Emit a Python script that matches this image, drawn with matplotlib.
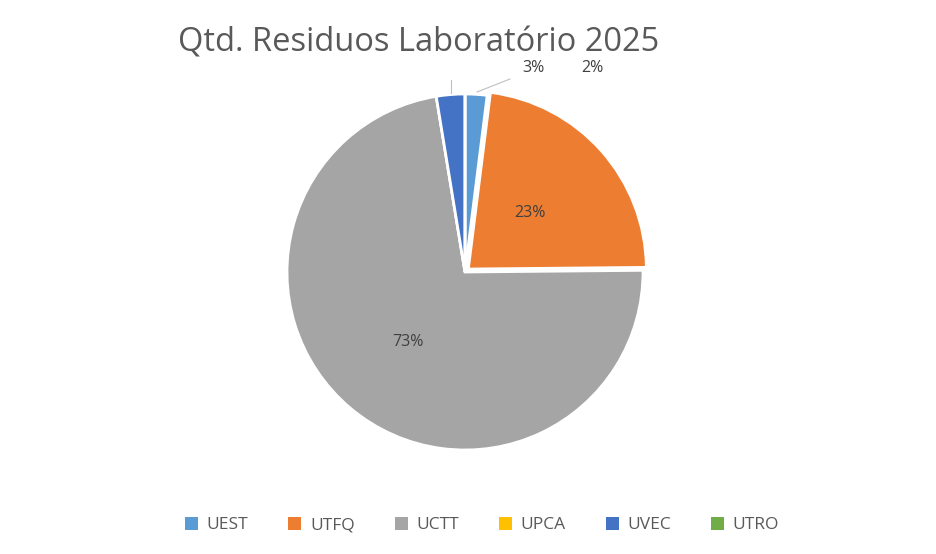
import matplotlib
matplotlib.use("Agg")
import matplotlib.pyplot as plt
from matplotlib.patches import Patch

categories = ['UEST', 'UTFQ', 'UCTT', 'UPCA', 'UVEC', 'UTRO']
values = [2.0, 23.0, 73.0, 0.0, 2.6, 0.0]
colors = ['#5B9BD5', '#ED7D31', '#A5A5A5', '#FFC000', '#4472C4', '#70AD47']
pct_labels = ['3%', '23%', '73%', '', '2%', '']

W, H = 937, 554
fig = plt.figure(figsize=(W / 100, H / 100), dpi=100)

cx, cy, r = 465, 272, 178
ax = fig.add_axes([(cx - r) / W, (H - cy - r) / H, 2 * r / W, 2 * r / H])

explode = [0, 0.025, 0, 0, 0, 0]
wedges, _ = ax.pie(values, colors=colors, startangle=90, counterclock=False,
                   explode=explode, radius=1,
                   wedgeprops=dict(edgecolor='white', linewidth=2))
ax.set_xlim(-1, 1)
ax.set_ylim(-1, 1)
ax.set_aspect('equal')
ax.axis('off')


def px(x, y):
    return (x / W, 1 - y / H)


lbl = dict(ha='center', va='center', fontsize=11.5, color='#404040', family='Open Sans')
# labels inside the two big slices
fig.text(*px(530, 213), pct_labels[1], **lbl)
fig.text(*px(408, 342), pct_labels[2], **lbl)

# small slices: labels above with leader lines
fig.text(*px(533, 68), pct_labels[0], **lbl)
fig.text(*px(592, 68), pct_labels[4], **lbl)
fig.add_artist(plt.Line2D([477 / W, 510 / W], [1 - 92 / H, 1 - 79 / H], color='#BFBFBF', lw=0.8))
fig.add_artist(plt.Line2D([451 / W, 451 / W], [1 - 93 / H, 1 - 80 / H], color='#BFBFBF', lw=0.8))

fig.text(*px(178, 43), 'Qtd. Residuos Laboratório 2025', ha='left', va='center',
         fontsize=23.5, color='#595959', family='Open Sans')

handles = [Patch(facecolor=c, edgecolor='none') for c in colors]
fig.legend(handles, categories, loc='center', bbox_to_anchor=(482 / W, 1 - 525 / H), ncol=6,
           frameon=False, handlelength=0.75, handleheight=0.75,
           handletextpad=0.5, columnspacing=2.3,
           labelcolor='#595959', prop={'family': 'Open Sans', 'size': 12.5})

fig.savefig('out.png', dpi=100)
